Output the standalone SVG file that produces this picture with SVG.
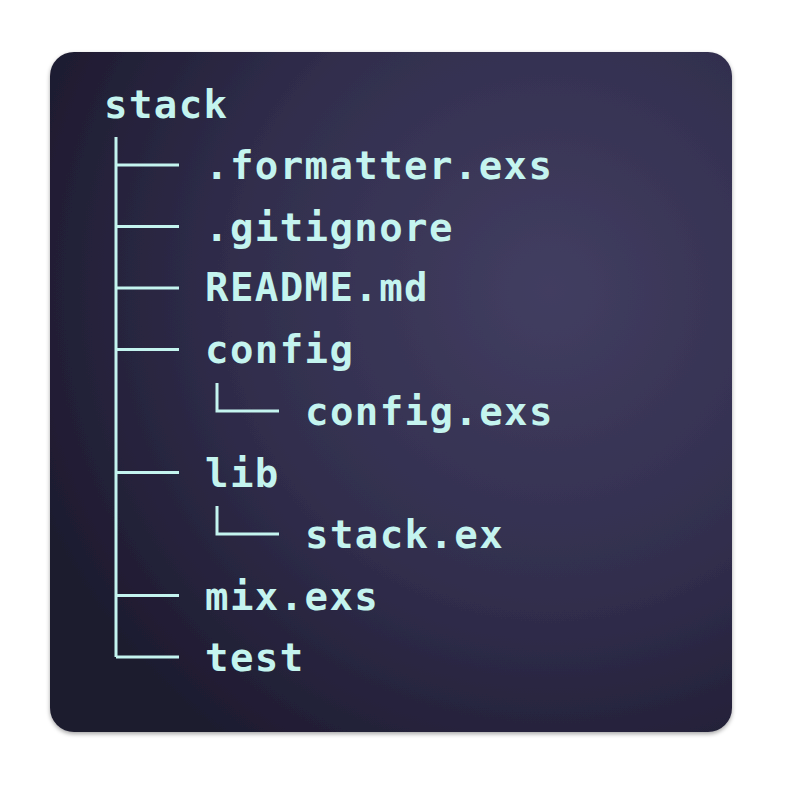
<svg xmlns="http://www.w3.org/2000/svg" width="790" height="796" viewBox="0 0 790 796">
  <defs>
    <radialGradient id="bg" gradientUnits="userSpaceOnUse" cx="550" cy="290" r="560">
      <stop offset="0" stop-color="#423e61"/>
      <stop offset="0.55" stop-color="#312e4d"/>
      <stop offset="1" stop-color="#1d1a2e"/>
    </radialGradient>
    <filter id="sh" x="-5%" y="-5%" width="110%" height="112%">
      <feDropShadow dx="0" dy="2" stdDeviation="2" flood-color="#000" flood-opacity="0.35"/>
    </filter>
  </defs>
  <style>
    .t { font-family: "DejaVu Sans Mono", "Liberation Mono", monospace; font-weight: bold; font-size: 39px; letter-spacing: 1.4px; fill: #c4f4ef; }
    .ln { stroke: #c4f4ef; stroke-width: 3; fill: none; stroke-linecap: butt; }
  </style>
  <rect width="790" height="796" fill="#ffffff"/>
  <rect x="50" y="52" width="682" height="680" rx="24" ry="24" fill="url(#bg)" filter="url(#sh)"/>

  <g id="connectors">
    <path class="ln" d="M116,137 V657 M116,165 H179 M116,226.5 H179 M116,288 H179 M116,349.5 H179 M116,472.5 H179 M116,595.5 H179 M116,657 H179"/>
    <path class="ln" d="M217,383 V411 H279"/>
    <path class="ln" d="M217,506 V534 H279"/>
  </g>

  <g id="root"><text class="t" x="104" y="117.5">stack</text></g>
  <g id="formatter"><text class="t" x="205" y="179">.formatter.exs</text></g>
  <g id="gitignore"><text class="t" x="205" y="240.5">.gitignore</text></g>
  <g id="readme"><text class="t" x="205" y="301">README.md</text></g>
  <g id="config"><text class="t" x="205" y="362.5">config</text></g>
  <g id="config-exs"><text class="t" x="305" y="425">config.exs</text></g>
  <g id="lib"><text class="t" x="205" y="486.5">lib</text></g>
  <g id="stack-ex"><text class="t" x="305" y="548">stack.ex</text></g>
  <g id="mix"><text class="t" x="205" y="609.5">mix.exs</text></g>
  <g id="test"><text class="t" x="205" y="671">test</text></g>
</svg>
